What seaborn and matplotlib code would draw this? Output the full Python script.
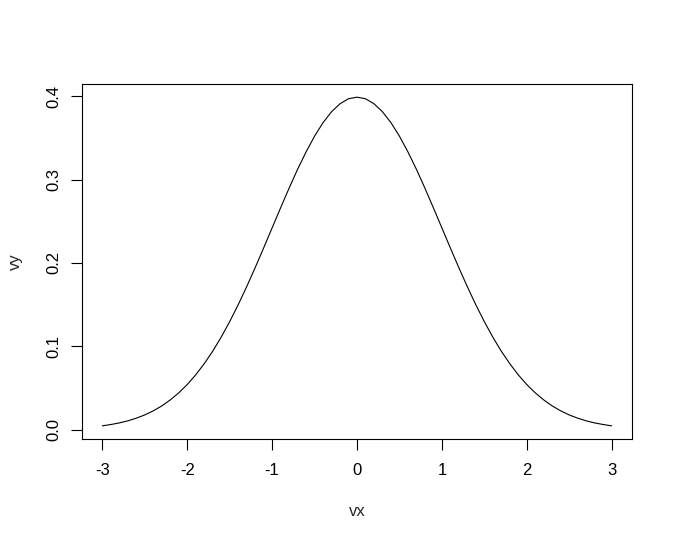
import matplotlib
matplotlib.use("Agg")
import matplotlib.pyplot as plt
import seaborn as sns
import pandas as pd

vx = [-3.0, -2.9, -2.8, -2.7, -2.6, -2.5, -2.4, -2.3, -2.2, -2.1,
      -2.0, -1.9, -1.8, -1.7, -1.6, -1.5, -1.4, -1.3, -1.2, -1.1,
      -1.0, -0.9, -0.8, -0.7, -0.6, -0.5, -0.4, -0.3, -0.2, -0.1,
      0.0, 0.1, 0.2, 0.3, 0.4, 0.5, 0.6, 0.7, 0.8, 0.9,
      1.0, 1.1, 1.2, 1.3, 1.4, 1.5, 1.6, 1.7, 1.8, 1.9,
      2.0, 2.1, 2.2, 2.3, 2.4, 2.5, 2.6, 2.7, 2.8, 2.9, 3.0]
vy = [0.0044, 0.0060, 0.0079, 0.0104, 0.0136, 0.0175, 0.0224, 0.0283, 0.0355, 0.0440,
      0.0540, 0.0656, 0.0790, 0.0940, 0.1109, 0.1295, 0.1497, 0.1714, 0.1942, 0.2179,
      0.2420, 0.2661, 0.2897, 0.3123, 0.3332, 0.3521, 0.3683, 0.3814, 0.3910, 0.3970,
      0.3989, 0.3970, 0.3910, 0.3814, 0.3683, 0.3521, 0.3332, 0.3123, 0.2897, 0.2661,
      0.2420, 0.2179, 0.1942, 0.1714, 0.1497, 0.1295, 0.1109, 0.0940, 0.0790, 0.0656,
      0.0540, 0.0440, 0.0355, 0.0283, 0.0224, 0.0175, 0.0136, 0.0104, 0.0079, 0.0060, 0.0044]
x_ticks = [-3, -2, -1, 0, 1, 2, 3]
y_ticks = [0.0, 0.1, 0.2, 0.3, 0.4]

sns.set_style("white")
plt.rcParams['font.family'] = ['Liberation Sans', 'DejaVu Sans']

df = pd.DataFrame({'vx': vx, 'vy': vy})

fig = plt.figure(figsize=(6.76, 5.44), dpi=100)
ax = fig.add_axes([82 / 676, 1 - 439 / 544, 550 / 676, 355 / 544])
sns.lineplot(x='vx', y='vy', data=df, ax=ax, color='black', linewidth=0.8)

ax.set_xlim(-3.24, 3.24)
ax.set_ylim(-0.0114, 0.4147)
ax.set_xticks(x_ticks)
ax.set_xticklabels([str(t) for t in x_ticks])
ax.set_yticks(y_ticks)
ax.set_yticklabels([f'{t:.1f}' for t in y_ticks], rotation=90, va='center')

for s in ax.spines.values():
    s.set_visible(True)
    s.set_color('black')
    s.set_linewidth(0.8)

ax.tick_params(axis='both', direction='out', length=8, width=0.8, colors='black',
               labelsize=12, bottom=True, left=True)
ax.tick_params(axis='x', pad=9)
ax.tick_params(axis='y', pad=7)
ax.set_xlabel('vx', fontsize=12, labelpad=19)
ax.set_ylabel('vy', fontsize=12, labelpad=17)

fig.savefig('out.png', dpi=100)
